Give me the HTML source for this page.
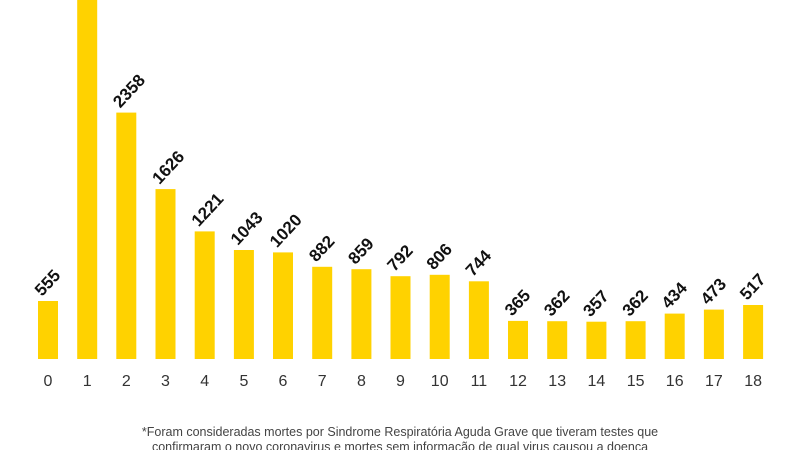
<!DOCTYPE html>
<html><head><meta charset="utf-8"><style>
html,body{margin:0;padding:0;background:#fff;}
svg{display:block;}
</style></head><body>
<svg width="800" height="450" viewBox="0 0 800 450" xmlns="http://www.w3.org/2000/svg" font-family="Liberation Sans, sans-serif">
<g fill="#FFD200">
<rect x="38" y="301" width="20" height="58"/>
<rect x="77.2" y="0" width="20" height="359"/>
<rect x="116.3" y="112.6" width="20" height="246.4"/>
<rect x="155.5" y="189.1" width="20" height="169.9"/>
<rect x="194.7" y="231.4" width="20" height="127.6"/>
<rect x="233.9" y="250" width="20" height="109"/>
<rect x="273" y="252.4" width="20" height="106.6"/>
<rect x="312.2" y="266.8" width="20" height="92.2"/>
<rect x="351.4" y="269.2" width="20" height="89.8"/>
<rect x="390.5" y="276.2" width="20" height="82.8"/>
<rect x="429.7" y="274.8" width="20" height="84.2"/>
<rect x="468.9" y="281.3" width="20" height="77.7"/>
<rect x="508" y="320.9" width="20" height="38.1"/>
<rect x="547.2" y="321.2" width="20" height="37.8"/>
<rect x="586.4" y="321.7" width="20" height="37.3"/>
<rect x="625.6" y="321.2" width="20" height="37.8"/>
<rect x="664.7" y="313.6" width="20" height="45.4"/>
<rect x="703.9" y="309.6" width="20" height="49.4"/>
<rect x="743.1" y="305" width="20" height="54"/>
</g>
<g font-weight="bold" font-size="17" fill="#111">
<text transform="translate(42,297) rotate(-47)">555</text>
<text transform="translate(120.3,108.6) rotate(-47)">2358</text>
<text transform="translate(159.5,185.1) rotate(-47)">1626</text>
<text transform="translate(198.7,227.4) rotate(-47)">1221</text>
<text transform="translate(237.9,246) rotate(-47)">1043</text>
<text transform="translate(277,248.4) rotate(-47)">1020</text>
<text transform="translate(316.2,262.8) rotate(-47)">882</text>
<text transform="translate(355.4,265.2) rotate(-47)">859</text>
<text transform="translate(394.5,272.2) rotate(-47)">792</text>
<text transform="translate(433.7,270.8) rotate(-47)">806</text>
<text transform="translate(472.9,277.3) rotate(-47)">744</text>
<text transform="translate(512,316.9) rotate(-47)">365</text>
<text transform="translate(551.2,317.2) rotate(-47)">362</text>
<text transform="translate(590.4,317.7) rotate(-47)">357</text>
<text transform="translate(629.6,317.2) rotate(-47)">362</text>
<text transform="translate(668.7,309.6) rotate(-47)">434</text>
<text transform="translate(707.9,305.6) rotate(-47)">473</text>
<text transform="translate(747.1,301) rotate(-47)">517</text>
</g>
<g font-size="16" fill="#333" text-anchor="middle">
<text x="48" y="386">0</text>
<text x="87.2" y="386">1</text>
<text x="126.3" y="386">2</text>
<text x="165.5" y="386">3</text>
<text x="204.7" y="386">4</text>
<text x="243.9" y="386">5</text>
<text x="283" y="386">6</text>
<text x="322.2" y="386">7</text>
<text x="361.4" y="386">8</text>
<text x="400.5" y="386">9</text>
<text x="439.7" y="386">10</text>
<text x="478.9" y="386">11</text>
<text x="518" y="386">12</text>
<text x="557.2" y="386">13</text>
<text x="596.4" y="386">14</text>
<text x="635.6" y="386">15</text>
<text x="674.7" y="386">16</text>
<text x="713.9" y="386">17</text>
<text x="753.1" y="386">18</text>
</g>
<text x="400" y="436" font-size="12.5" fill="#444" text-anchor="middle">*Foram consideradas mortes por Sindrome Respiratória Aguda Grave que tiveram testes que</text>
<text x="400" y="451" font-size="12.5" fill="#444" text-anchor="middle">confirmaram o novo coronavirus e mortes sem informação de qual virus causou a doenca</text>
</svg>
</body></html>
